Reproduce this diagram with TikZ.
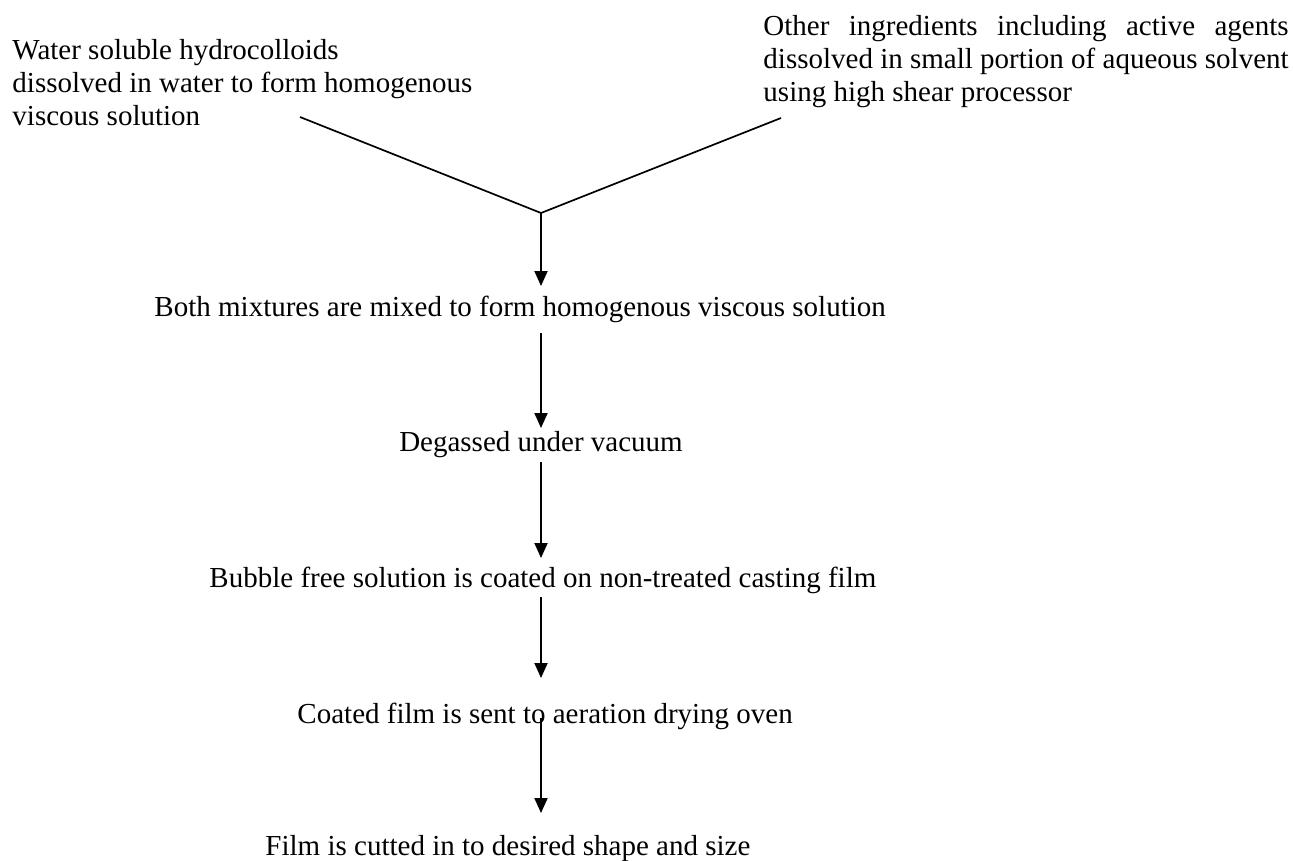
\documentclass[tikz,border=0pt]{standalone}
\usepackage{fontspec}
\setmainfont{Liberation Serif}
\usetikzlibrary{arrows.meta,calc}
\newlength\rightw
\begin{document}
\begin{tikzpicture}[x=0.41379pt,y=-0.41379pt,
  txt/.style={inner sep=0pt,font=\fontsize{12}{13.66}\selectfont},
  link/.style={line width=0.7pt},
  arr/.style={line width=0.7pt,-{Triangle[length=6.2pt,width=5.4pt]}}]
\useasboundingbox (0,0) rectangle (1293,861);
\node[txt,anchor=base west] (a) at (12,59) {\begin{tabular}[t]{@{}l@{}}Water soluble hydrocolloids\\dissolved in water to form homogenous\\viscous solution\end{tabular}};
\node[txt,anchor=base west] (b) at (763,35) {\settowidth{\rightw}{dissolved in small portion of aqueous solvent}\begin{tabular}[t]{@{}l@{}}\makebox[\rightw][s]{Other ingredients including active agents}\\dissolved in small portion of aqueous solvent\\using high shear processor\end{tabular}};
\coordinate (la) at (300,117);
\coordinate (lb) at (781,118);
\coordinate (j) at (541,213);
\node[txt,anchor=base west] (t1) at (154,316) {Both mixtures are mixed to form homogenous viscous solution};
\node[txt,anchor=base] (t2) at (541,451) {Degassed under vacuum};
\node[txt,anchor=base west] (t3) at (209,587) {Bubble free solution is coated on non-treated casting film};
\node[txt,anchor=base west] (t4) at (297,723) {Coated film is sent to aeration drying oven};
\node[txt,anchor=base west] (t5) at (265,855) {Film is cutted in to desired shape and size};
\draw[link] (la) -- (j) -- (lb);
\draw[arr] (j) -- ($(t1.base-|j)+(0,-30)$);
\draw[arr] ($(t1.base-|j)+(0,17)$) -- ($(t2.base-|j)+(0,-23)$);
\draw[arr] ($(t2.base-|j)+(0,11)$) -- ($(t3.base-|j)+(0,-29)$);
\draw[arr] ($(t3.base-|j)+(0,10)$) -- ($(t4.base-|j)+(0,-45)$);
\draw[arr] ($(t4.base-|j)+(0,-5)$) -- ($(t5.base-|j)+(0,-42)$);
\end{tikzpicture}
\end{document}
